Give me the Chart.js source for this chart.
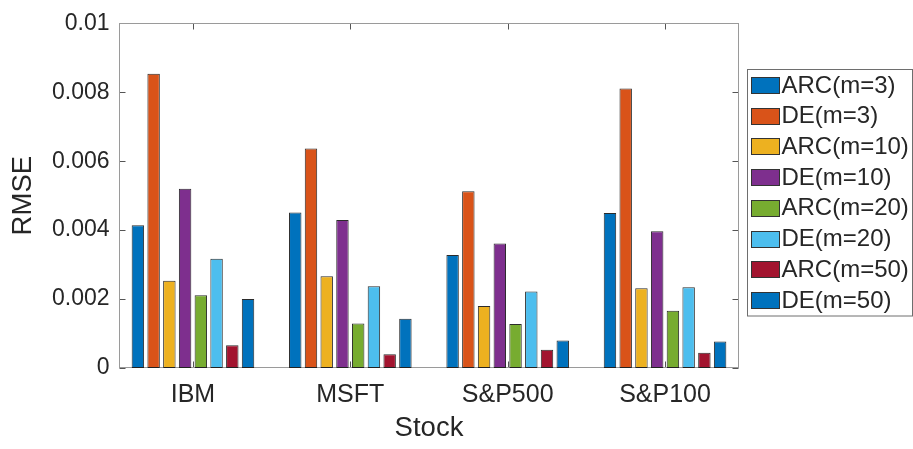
<!DOCTYPE html>
<html>
<head>
<meta charset="utf-8">
<title>RMSE by stock</title>
<script src="https://cdn.jsdelivr.net/npm/chart.js@4/dist/chart.umd.min.js"></script>
<style>
  html, body { margin: 0; padding: 0; background: #fff; }
  #wrap { position: relative; width: 913px; height: 449px; }
</style>
</head>
<body>
<div id="wrap"><canvas id="chart"></canvas></div>
<script>
(function () {
  "use strict";

  // ---- data --------------------------------------------------------------
  var stocks = ["IBM", "MSFT", "S&P500", "S&P100"];
  var seriesNames = ["ARC(m=3)", "DE(m=3)", "ARC(m=10)", "DE(m=10)",
                     "ARC(m=20)", "DE(m=20)", "ARC(m=50)", "DE(m=50)"];
  var arc3  = [0.00414, 0.00451, 0.00328, 0.00450];
  var de3   = [0.00854, 0.00637, 0.00513, 0.00811];
  var arc10 = [0.00253, 0.00266, 0.00180, 0.00231];
  var de10  = [0.00520, 0.00429, 0.00361, 0.00397];
  var arc20 = [0.00211, 0.00129, 0.00128, 0.00166];
  var de20  = [0.00317, 0.00237, 0.00222, 0.00234];
  var arc50 = [0.00066, 0.00040, 0.00053, 0.00044];
  var de50  = [0.00200, 0.00143, 0.00080, 0.00077];
  var yTicks = [0, 0.002, 0.004, 0.006, 0.008, 0.01];

  var series = [arc3, de3, arc10, de10, arc20, de20, arc50, de50];
  var COLORS = ["#0072BD", "#D95319", "#EDB120", "#7E2F8E",
                "#77AC30", "#4DBEEE", "#A2142F", "#0072BD"];

  var FONT = "'Liberation Sans', Arial, Helvetica, sans-serif";
  var TEXT = "#262626";
  var FRAME = "#9a9a9a";
  var TICKMARK = "#555555";

  // ---- axes box with inward ticks ------------------------------------------
  var framePlugin = {
    id: "frame",
    beforeDatasetsDraw: function (chart) {
      var ctx = chart.ctx;
      var a = chart.chartArea;
      var xs = chart.scales.x;
      var ys = chart.scales.y;
      var L = Math.round(a.left) + 0.5, R = Math.round(a.right) - 0.5;
      var T = Math.round(a.top) + 0.5, B = Math.round(a.bottom) - 0.5;
      var len = 6;
      ctx.save();
      ctx.lineWidth = 1;
      ctx.strokeStyle = TICKMARK;
      ctx.beginPath();
      xs.ticks.forEach(function (t) {
        var px = Math.round(xs.getPixelForValue(t.value)) + 0.5;
        ctx.moveTo(px, T); ctx.lineTo(px, T + len);
        ctx.moveTo(px, B); ctx.lineTo(px, B - len);
      });
      ys.ticks.forEach(function (t) {
        var py = Math.round(ys.getPixelForValue(t.value)) + 0.5;
        ctx.moveTo(L, py); ctx.lineTo(L + len, py);
        ctx.moveTo(R, py); ctx.lineTo(R - len, py);
      });
      ctx.stroke();
      ctx.strokeStyle = FRAME;
      ctx.strokeRect(L, T, R - L, B - T);
      ctx.restore();
    }
  };

  // ---- boxed legend to the right -----------------------------------------
  var LEG = { x: 747.5, y: 69.5, w: 165, h: 246.5,
              swX: 751, swW: 28, swH: 16, row0: 85, step: 30.7, textX: 781.5 };

  var legendPlugin = {
    id: "boxLegend",
    afterDraw: function (chart) {
      var ctx = chart.ctx;
      ctx.save();
      ctx.fillStyle = "#fff";
      ctx.fillRect(LEG.x, LEG.y, LEG.w, LEG.h);
      ctx.lineWidth = 1;
      ctx.strokeStyle = "#6e6e6e";
      ctx.strokeRect(LEG.x, LEG.y, LEG.w, LEG.h);
      ctx.font = "24px " + FONT;
      ctx.textBaseline = "middle";
      ctx.textAlign = "left";
      chart.data.datasets.forEach(function (ds, i) {
        var cy = LEG.row0 + i * LEG.step;
        var top = Math.round(cy - LEG.swH / 2) + 0.5;
        ctx.fillStyle = ds.backgroundColor;
        ctx.fillRect(LEG.swX + 0.5, top, LEG.swW, LEG.swH);
        ctx.strokeStyle = "#333";
        ctx.strokeRect(LEG.swX + 0.5, top, LEG.swW, LEG.swH);
        ctx.fillStyle = TEXT;
        ctx.fillText(ds.label, LEG.textX, cy + 1);
      });
      ctx.restore();
    }
  };

  // ---- datasets ----------------------------------------------------------
  var datasets = series.map(function (vals, i) {
    return {
      label: seriesNames[i],
      data: vals.map(function (v, j) { return { x: j + 1, y: v }; }),
      backgroundColor: COLORS[i],
      borderColor: "rgba(20,20,20,0.9)",
      borderWidth: 1,
      borderSkipped: false,
      categoryPercentage: 0.8,
      barPercentage: 0.79
    };
  });

  new Chart(document.getElementById("chart"), {
    type: "bar",
    data: { datasets: datasets },
    options: {
      responsive: true,
      maintainAspectRatio: false,
      animation: false,
      layout: { padding: { left: 0, right: 174, top: 18, bottom: 0 } },
      plugins: {
        legend: { display: false },
        tooltip: { enabled: false }
      },
      scales: {
        x: {
          type: "linear",
          min: 0.53,
          max: 4.47,
          offset: false,
          grid: { display: false, offset: false, drawTicks: false },
          border: { display: false },
          ticks: {
            stepSize: 1,
            includeBounds: false,
            padding: 12,
            color: TEXT,
            font: { family: FONT, size: 25 },
            callback: function (v) {
              return Number.isInteger(v) ? stocks[v - 1] : "";
            }
          },
          title: {
            display: true,
            text: "Stock",
            color: TEXT,
            font: { family: FONT, size: 27.5 },
            padding: { top: 0, bottom: 4 }
          },
          afterFit: function (scale) { scale.height = 81; }
        },
        y: {
          min: 0,
          max: 0.01,
          grid: { display: false, drawTicks: false },
          border: { display: false },
          afterBuildTicks: function (scale) {
            scale.ticks = yTicks.map(function (v) { return { value: v }; });
          },
          ticks: {
            padding: 9.5,
            color: TEXT,
            font: { family: FONT, size: 23 },
            callback: function (v) { return String(+v.toFixed(3)); }
          },
          title: {
            display: true,
            text: "RMSE",
            color: TEXT,
            font: { family: FONT, size: 27.5 },
            padding: { top: 7, bottom: 0 }
          },
          afterFit: function (scale) { scale.width = 119; }
        }
      }
    },
    plugins: [framePlugin, legendPlugin]
  });
})();
</script>
</body>
</html>
